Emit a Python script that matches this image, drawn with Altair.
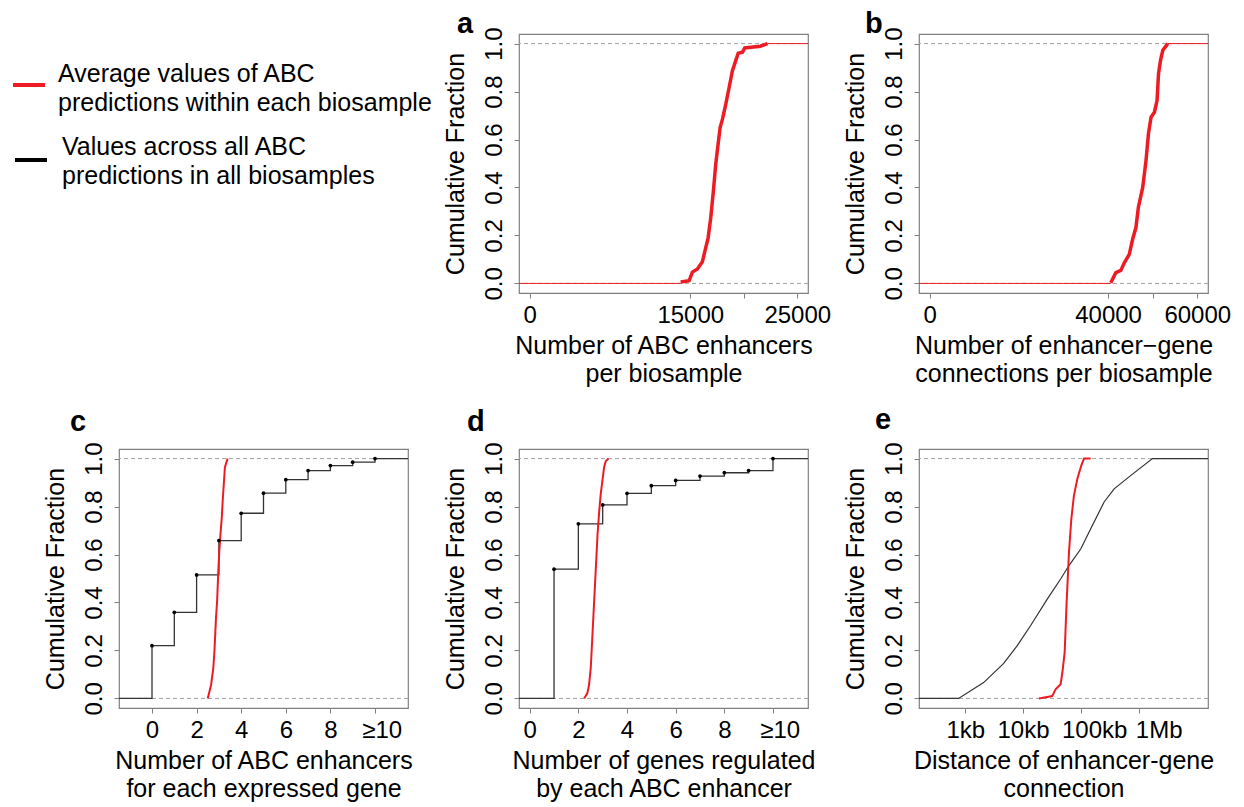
import altair as alt
import pandas as pd

FONT = "Liberation Sans"
FS = 25
LFS = 24
RED = "#ed1c24"
STEP = "#333333"
DASH = "#a0a0a0"
BOX = "#808080"
W, H = 289, 259
NB = "\u00a0"
ZW = "\u200b"

Y_DOMAIN = [-0.04, 1.04]
Y_TICKS = [0.0, 0.2, 0.4, 0.6, 0.8, 1.0]
Y_TITLE = "Cumulative Fraction"

legend_red = ["Average values of ABC", "predictions within each biosample"]
legend_black = ["Values across all ABC", "predictions in all biosamples"]

# ---- panel a: ABC enhancers per biosample (red ECDF)
a_red_x = [14100, 14890, 15200, 15670, 16130, 16440, 16670, 16910, 17160, 17380, 17600,
           17790, 18010, 18320, 18630, 18940, 19250, 19480, 19880, 20090, 21540, 22220]
a_red_y = [0.006, 0.011, 0.047, 0.060, 0.090, 0.148, 0.190, 0.273, 0.385, 0.497, 0.580,
           0.650, 0.685, 0.748, 0.817, 0.887, 0.929, 0.960, 0.964, 0.982, 0.989, 1.0]
a_domain = [-1000, 26000]
a_ticks = [0, 15000, 20000, 25000]
a_labels = ["0", "15000", "", "25000"]
a_title = ["Number of ABC enhancers", "per biosample"]

# ---- panel b: enhancer-gene connections per biosample
b_red_x = [40600, 41730, 42860, 43630, 44750, 45500, 46240, 46790, 47760, 48500, 49040,
           49630, 50390, 50980, 51300, 51750, 52270, 53390]
b_red_y = [0.003, 0.045, 0.054, 0.086, 0.121, 0.184, 0.233, 0.317, 0.400, 0.512, 0.623,
           0.693, 0.714, 0.763, 0.874, 0.930, 0.972, 1.0]
b_domain = [-2400, 62400]
b_ticks = [0, 40000, 50000, 60000]
b_labels = ["0", "40000", "", "60000"]
b_title = ["Number of enhancer\u2212gene", "connections per biosample"]

# ---- panel c: ABC enhancers per expressed gene
c_red_x = [2.50, 2.65, 2.75, 2.80, 2.87, 2.92, 2.95, 2.98, 3.02, 3.07, 3.13, 3.17, 3.22, 3.27, 3.39]
c_red_y = [0.0, 0.057, 0.127, 0.197, 0.336, 0.406, 0.476, 0.545, 0.615, 0.685, 0.755, 0.824,
           0.894, 0.964, 1.0]
c_black_x = [0, 1, 2, 3, 4, 5, 6, 7, 8, 9, 10]
c_black_y = [0.220, 0.359, 0.515, 0.658, 0.772, 0.856, 0.912, 0.950, 0.971, 0.985, 1.0]
c_domain = [-1.48, 11.48]
c_ticks = [0, 2, 4, 6, 8, 10]
c_labels = ["0", "2", "4", "6", "8", "\u226510"]
c_title = ["Number of ABC enhancers", "for each expressed gene"]

# ---- panel d: genes regulated by each ABC enhancer
d_red_x = [2.24, 2.37, 2.44, 2.51, 2.58, 2.65, 2.72, 2.79, 2.86, 2.92, 2.99, 3.06, 3.13, 3.24]
d_red_y = [0.0, 0.022, 0.057, 0.127, 0.267, 0.406, 0.546, 0.686, 0.784, 0.853, 0.909, 0.965,
           0.990, 1.0]
d_black_x = [1, 2, 3, 4, 5, 6, 7, 8, 9, 10]
d_black_y = [0.539, 0.728, 0.807, 0.855, 0.887, 0.909, 0.927, 0.941, 0.950, 1.0]
d_domain = [-0.44, 11.44]
d_ticks = [0, 2, 4, 6, 8, 10]
d_labels = ["0", "2", "4", "6", "8", "\u226510"]
d_title = ["Number of genes regulated", "by each ABC enhancer"]

# ---- panel e: enhancer-gene distance (bp, log scale)
e_red_x = [18790, 32060, 36560, 44670, 47860, 52480, 56750, 62370, 68550, 76030, 87100,
           102100, 113500, 148000]
e_red_y = [0.0, 0.010, 0.038, 0.059, 0.107, 0.191, 0.400, 0.610, 0.750, 0.847, 0.916,
           0.972, 1.0, 1.0]
e_black_x = [766, 2080, 4624, 7889, 13460, 26240, 44670, 62370, 99540, 148300, 252900,
             376700, 734500, 1738000]
e_black_y = [0.0, 0.066, 0.146, 0.219, 0.303, 0.414, 0.498, 0.554, 0.623, 0.707, 0.819,
             0.874, 0.930, 1.0]
e_domain = [158.5, 15850000]
e_ticks = [1000, 10000, 100000, 1000000]
e_labels = ["1kb", "10kb", "100kb", "1Mb"]
e_title = ["Distance of enhancer-gene", "connection"]


def label_expr(ticks, labels, lead):
    expr = "datum.label"
    for t, l, n in zip(reversed(ticks), reversed(labels), reversed(lead)):
        pad = (ZW + NB * n) if n else ""
        expr = f"(datum.value == {t}) ? '{pad}{l}' : ({expr})"
    return expr


def x_axis(ticks, labels, title, lead):
    return alt.Axis(values=ticks, labelExpr=label_expr(ticks, labels, lead), title=title,
                    grid=False, domain=False, tickSize=5, tickColor=BOX,
                    labelPadding=5, labelFontSize=LFS, labelFont=FONT, labelColor="black",
                    labelOverlap=False, labelFlush=False,
                    titleFontSize=FS, titleFont=FONT, titleFontWeight="normal",
                    titleColor="black", titlePadding=6, titleLineHeight=28)


Y_AXIS = alt.Axis(values=Y_TICKS, format=".1f", title=Y_TITLE, grid=False, domain=False,
                  tickSize=5, tickColor=BOX, labelAngle=270, labelAlign="center",
                  labelBaseline="bottom", labelPadding=8, labelFontSize=LFS, labelFont=FONT,
                  labelColor="black", labelOverlap=False, labelFlush=False,
                  titleFontSize=FS, titleFont=FONT, titleFontWeight="normal",
                  titleColor="black", titlePadding=19, titleBaseline="alphabetic")


def panel(letter, tdx, tdy, red_x, red_y, red_width, domain, ticks, labels, xtitle,
          lead=None, log=False, red_ext=False, black_x=None, black_y=None, black_step=False):
    lead = lead or [0] * len(ticks)
    xs = alt.Scale(type="log" if log else "linear", domain=domain, nice=False, zero=False)
    ys = alt.Scale(domain=Y_DOMAIN, nice=False, zero=False)
    xa = x_axis(ticks, labels, xtitle, lead)
    X = alt.X("x:Q", scale=xs, axis=xa)
    Y = alt.Y("y:Q", scale=ys, axis=Y_AXIS)
    layers = []
    ref = alt.Chart(pd.DataFrame({"y": [0.0, 1.0]})).mark_rule(
        color=DASH, strokeDash=[4, 3], strokeWidth=1).encode(y=Y)
    layers.append(ref)
    if black_x is not None:
        if black_step:
            bx = [domain[0]] + black_x + [domain[1]]
            by = [0.0] + black_y + [black_y[-1]]
            line = alt.Chart(pd.DataFrame({"x": bx, "y": by})).mark_line(
                interpolate="step-after", color=STEP, strokeWidth=1.3).encode(x=X, y=Y)
        else:
            bx = [domain[0]] + black_x + [domain[1]]
            by = [0.0] + black_y + [1.0]
            line = alt.Chart(pd.DataFrame({"x": bx, "y": by})).mark_line(
                color=STEP, strokeWidth=1.2).encode(x=X, y=Y)
        layers.append(line)
    if red_ext:
        ext = pd.DataFrame({"x": [domain[0], red_x[0], red_x[-1], domain[1]],
                            "y": [0.0, 0.0, 1.0, 1.0],
                            "g": ["lo", "lo", "hi", "hi"]})
        layers.append(alt.Chart(ext).mark_line(color=RED, strokeWidth=1).encode(
            x=X, y=Y, detail="g:N"))
    rdf = pd.DataFrame({"x": red_x, "y": red_y})
    layers.append(alt.Chart(rdf).mark_line(color=RED, strokeWidth=red_width).encode(x=X, y=Y))
    if black_x is not None and black_step:
        layers.append(alt.Chart(pd.DataFrame({"x": black_x, "y": black_y})).mark_circle(
            color="black", size=14, opacity=1).encode(x=X, y=Y))
    return alt.layer(*layers).properties(
        width=W, height=H,
        title=alt.TitleParams(letter, anchor="start", frame="group", fontSize=29,
                              fontWeight="bold", font=FONT, color="black", dx=tdx, dy=tdy,
                              offset=0, baseline="alphabetic"))


pa = panel("a", -62, 35, a_red_x, a_red_y, 3.5, a_domain, a_ticks, a_labels, a_title,
           red_ext=True)
pb = panel("b", -54, 35, b_red_x, b_red_y, 3.5, b_domain, b_ticks, b_labels, b_title,
           red_ext=True)
pc = panel("c", -49, 18, c_red_x, c_red_y, 2, c_domain, c_ticks, c_labels, c_title,
           lead=[0, 0, 0, 0, 0, 2],
           black_x=c_black_x, black_y=c_black_y, black_step=True)
pd_ = panel("d", -52, 18, d_red_x, d_red_y, 2, d_domain, d_ticks, d_labels, d_title,
            lead=[0, 0, 0, 0, 0, 2],
            black_x=d_black_x, black_y=d_black_y, black_step=True)
pe = panel("e", -44, 16, e_red_x, e_red_y, 2, e_domain, e_ticks, e_labels, e_title,
           lead=[0, 0, 4, 6],
           log=True, black_x=e_black_x, black_y=e_black_y)

one = pd.DataFrame({"k": [0]})
leg_layers = [
    alt.Chart(one).mark_rule(color=RED, strokeWidth=4).encode(
        x=alt.value(-106), x2=alt.value(-74), y=alt.value(51)),
    alt.Chart(one).mark_text(text=legend_red, align="left", baseline="alphabetic",
                             fontSize=FS, font=FONT, lineHeight=29, color="black").encode(
        x=alt.value(-61), y=alt.value(48)),
    alt.Chart(one).mark_rule(color="black", strokeWidth=4).encode(
        x=alt.value(-104), x2=alt.value(-72), y=alt.value(126)),
    alt.Chart(one).mark_text(text=legend_black, align="left", baseline="alphabetic",
                             fontSize=FS, font=FONT, lineHeight=28.5, color="black").encode(
        x=alt.value(-57), y=alt.value(121)),
]
leg = alt.layer(*leg_layers).properties(width=W, height=H,
                                        view=alt.ViewBackground(strokeOpacity=0))

chart = alt.concat(leg, pa, pb, pc, pd_, pe, columns=3,
                   spacing={"row": 156, "column": 111}, bounds="flush").properties(
    padding={"left": 3, "top": 1, "right": 0, "bottom": 0}
).configure_view(stroke=BOX, strokeWidth=1.2)

chart.save("out.html", embed_options={"renderer": "svg", "actions": False})
